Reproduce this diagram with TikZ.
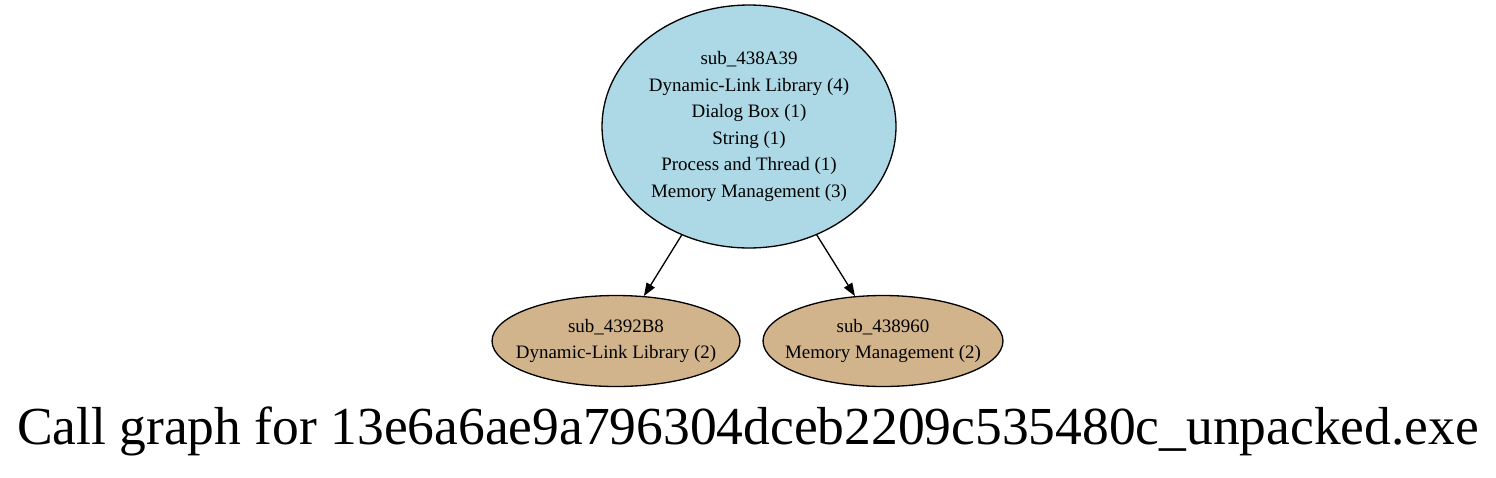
\documentclass[tikz,border=0pt]{standalone}
\usepackage{fontspec}
\setmainfont{Liberation Serif}
\usetikzlibrary{shapes.geometric,arrows.meta}
\definecolor{nodeblue}{HTML}{ADD8E6}
\definecolor{nodetan}{HTML}{D2B48C}
\begin{document}
\begin{tikzpicture}[x=0.02cm,y=-0.02cm,
    fn/.style={ellipse,draw,line width=0.75pt,inner xsep=-10pt,inner ysep=0pt,align=center,font=\fontsize{10.8}{15.1}\selectfont},
    call/.style={-{Triangle[length=0.26cm,width=0.19cm]},line width=0.75pt}]
            \useasboundingbox (0,0) rectangle (1496,477);
            \node (a) at (749,126.5) [fn,fill=nodeblue,minimum width=5.88cm,minimum height=4.86cm] {sub\_438A39\\Dynamic-Link Library (4)\\Dialog Box (1)\\String (1)\\Process and Thread (1)\\Memory Management (3)};
            \node (b) at (616,341) [fn,fill=nodetan,minimum width=4.96cm,minimum height=1.82cm] {sub\_4392B8\\Dynamic-Link Library (2)};
            \node (c) at (883,341) [fn,fill=nodetan,minimum width=4.8cm,minimum height=1.82cm] {sub\_438960\\Memory Management (2)};
            
            \draw[call] (a) -- (b);
            \draw[call] (a) -- (c);
            
            \node (t) at (748,444) [anchor=base,font=\fontsize{30.45}{37}\selectfont] {Call graph for 13e6a6ae9a796304dceb2209c535480c\_unpacked.exe};
            
        \end{tikzpicture}
\end{document}
